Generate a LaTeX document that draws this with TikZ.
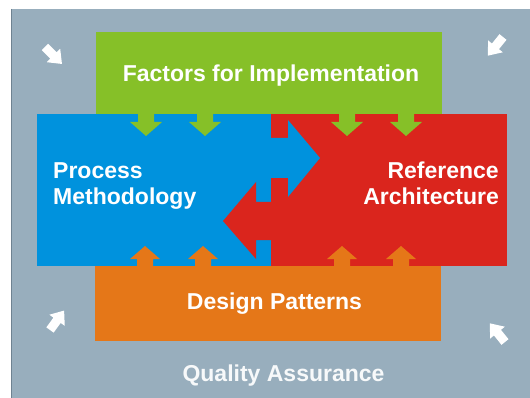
\documentclass[tikz,border=0pt]{standalone}
\usepackage{fontspec}
\setmainfont{Liberation Sans}

\definecolor{qaGray}{RGB}{152,174,189}
\definecolor{qaEdge}{RGB}{110,130,145}
\definecolor{fiGreen}{RGB}{134,192,40}
\definecolor{pmBlue}{RGB}{0,146,221}
\definecolor{raRed}{RGB}{218,37,29}
\definecolor{dpOrange}{RGB}{229,119,24}

\begin{document}
\begin{tikzpicture}[x=1pt,y=1pt]
\tikzstyle{every node}+=[inner sep=0pt, text=white, font=\fontsize{23}{26}\selectfont\bfseries]
\useasboundingbox (0,0) rectangle (530,-398);
\fill [qaGray] (11,-9) rectangle (530,-398);
\draw [qaEdge, line width=1pt] (11,-9) -- (11,-398);
\fill [fiGreen] (96,-32) rectangle (442,-114);
\fill [dpOrange] (95,-266) rectangle (441,-341);
\fill [pmBlue] (37,-114) rectangle (271,-266);
\fill [raRed] (271,-114) rectangle (507,-266);
% arrows between the two middle boxes
\fill [pmBlue] (271,-138) -- (288,-138) -- (288,-120) -- (320,-158) -- (288,-197) -- (288,-178) -- (271,-178) -- cycle;
\fill [raRed] (271,-202) -- (256,-202) -- (256,-182) -- (223,-221) -- (256,-259) -- (256,-240) -- (271,-240) -- cycle;
% arrows down from the top box
\foreach \x in {146,205,347,406}
  \fill [fiGreen] (\x-8,-114) -- (\x+8,-114) -- (\x+8,-122) -- (\x+16,-122) -- (\x,-136) -- (\x-16,-122) -- (\x-8,-122) -- cycle;
% arrows up from the bottom box
\foreach \x in {145,203,342,401}
  \fill [dpOrange] (\x-8,-266) -- (\x-8,-259) -- (\x-15,-259) -- (\x,-246) -- (\x+15,-259) -- (\x+8,-259) -- (\x+8,-266) -- cycle;
% corner arrows
\foreach \px/\py/\ang in {45/-47/-45, 503/-37/231, 50/-330/54, 505/-342/129}
  \fill [white, shift={(\px,\py)}, rotate=\ang] (0,-4.5) -- (12,-4.5) -- (12,-9.5) -- (24,0) -- (12,9.5) -- (12,4.5) -- (0,4.5) -- cycle;
\node [anchor=base] (fi) at (271,-81.5) {Factors for Implementation};
\node [anchor=base west, align=left] (pm) at (53,-205) {Process\\Methodology};
\node [anchor=base east, align=right] (ra) at (499,-205) {Reference\\Architecture};
\node [anchor=base] (dp) at (274.5,-309) {Design Patterns};
\node [anchor=base, text=white!92!qaGray] (qa) at (283.5,-381) {Quality Assurance};
\end{tikzpicture}
\end{document}
